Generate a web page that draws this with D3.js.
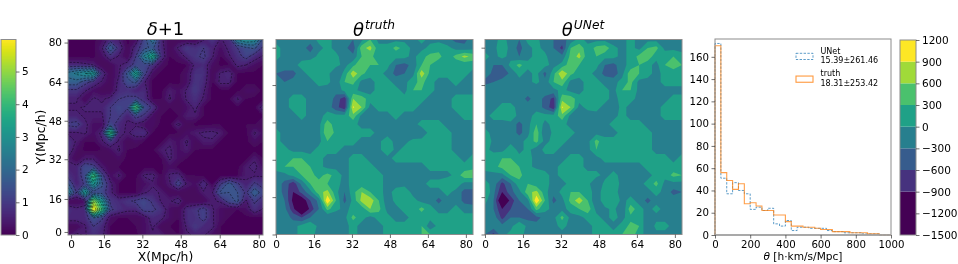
<!DOCTYPE html>
<html>
<head>
<meta charset="utf-8">
<script src="https://cdn.jsdelivr.net/npm/d3@7"></script>
<style>
  html, body { margin: 0; padding: 0; background: #fff; }
  svg { display: block; filter: blur(0.35px); }
  text { font-family: "DejaVu Sans", sans-serif; fill: #000; }
  .math { font-style: italic; }
</style>
</head>
<body>
<svg width="958" height="264"></svg>
<script>
// all three fields on a 24x24 lattice, top row first
var deltaField = [
  [.05,.05,.05,.05,.25,.7,.5,.05,.25,1.2,2.4,.6,.1,.1,.1,.1,.45,.9,.45,.7,2.6,3,2.8,1.4],
  [.05,.05,.05,.05,.45,1.9,.8,.1,.7,1.4,1.6,.7,.1,.55,1,.8,1,.6,.25,.6,1,1.4,1.6,.9],
  [.05,.05,.05,.05,.25,.8,.45,.1,1,2.6,3.8,.8,.1,.25,.6,.9,1.1,.55,.1,.45,.8,1.2,.7,.45],
  [.7,.7,.6,.5,.1,.1,.45,.7,1.2,1.3,.8,.25,.05,.05,.1,.6,.7,.25,.05,.1,.6,.5,.25,.1],
  [2.2,2.6,3,3.2,.8,.1,.45,1.6,3.6,1.2,.25,.05,.05,.05,.25,.8,.8,.1,.55,.7,.1,.05,.05,.05],
  [1.8,1.8,1.2,.8,.45,.1,.6,1.4,1.6,.55,.05,.05,.05,.05,.25,.9,.7,.1,.6,.6,.05,.05,.05,.05],
  [.9,.9,.55,.25,.1,.1,.7,.8,.55,.7,.05,.05,.45,.25,.55,1,.55,.05,.05,.05,.05,.25,.25,.05],
  [.55,.55,.1,.55,.45,.6,1,1.1,1.2,.8,.1,.1,.55,.1,.55,.8,.45,.05,.05,.1,.55,.1,.05,.05],
  [.45,.45,.55,.55,.55,1,1.3,1.1,4.6,1.4,.9,.1,.1,.1,.25,.6,.1,.05,.05,.05,.1,.05,.1,.7],
  [.6,.6,.45,.45,.45,1,1.1,.55,1.2,.9,.25,.1,.05,.1,.45,.45,.1,.05,.05,.05,.05,.05,.05,.1],
  [1.1,1.2,.6,.25,.25,1.3,.7,.45,.45,.25,.25,.05,.05,.6,.1,.05,.05,.1,.1,.05,.05,.1,.1,.1],
  [.45,.45,.55,.25,.6,4.4,.6,.45,.7,.8,.1,.05,.05,.1,.25,.45,.55,.6,.45,.05,.05,.05,.55,.25],
  [.8,.45,.1,.1,.45,.9,.45,.1,.25,.1,.05,.05,.45,.25,.55,.1,.45,.45,.1,.05,.05,.05,.25,.1],
  [.8,.25,.05,.05,.1,.25,.55,.1,.05,.05,.05,.45,.55,.25,.45,.1,.05,.05,.05,.05,.05,.05,.05,.05],
  [.45,.1,.45,.45,.1,.1,.25,.05,.05,.05,.05,.1,.55,.25,.1,.05,.05,.05,.05,.05,.05,.05,.45,.1],
  [.6,.6,1.4,1.2,.45,.1,.1,.05,.05,.05,.05,.05,.25,.05,.05,.05,.05,.05,.05,.05,.05,.45,.6,.25],
  [.8,.55,1.4,4.4,1.2,.25,.55,.05,.05,.55,.6,.1,.55,.7,.1,.1,.05,.05,.05,.05,.1,.45,.45,.45],
  [1.6,.55,1.1,3.2,1.6,.6,.1,.05,.1,.25,.45,.1,.45,1.3,.45,.25,.8,.1,1,1.7,1.1,.55,1.1,.8],
  [2.6,1,3.4,1.2,1.3,.6,.1,.05,.1,.45,.6,.45,.1,.1,.1,.1,.45,.45,1.6,1.5,1.5,.9,1.9,1.2],
  [.1,.1,.25,5,3,.9,.7,.9,1.1,1.3,.9,.45,.45,.7,.1,.1,.1,.45,.55,1.3,1.6,.45,1.1,.7],
  [.8,.6,.7,6.2,4,1.1,.8,.6,.6,1.2,1.1,.8,.25,.1,.7,.9,1.2,.55,.25,.1,.1,.25,.8,.45],
  [.7,.7,.7,1.5,1.1,.25,.1,.1,.1,.25,.7,.6,.25,.1,.7,.8,1.2,.55,.25,.1,.05,.05,.05,.05],
  [.1,.1,.45,1,.7,.1,.05,.05,.1,.25,.55,.1,.1,.05,.55,1,.7,.6,.1,.05,.05,.05,.05,.05],
  [.25,.6,.45,.8,.6,.1,.05,.05,.05,.25,.45,.45,.1,.1,.45,.55,.55,.25,.1,.05,.05,.05,.05,.05]
];

// theta fields in units of 100 h km/s/Mpc
var thetaTruth = [
  [-1,-1,-1,-1,-2,1,1,-1,-1,-3,-1,3,-1,-1,-1,-1,-1,1,-1,-1,-2,-4,-4,-1],
  [1,-1,-1,-2,-4,-1,1,-1,-2,-5,5,7,1,1,4,2,-1,-1,1,2,1,-1,-2,-1],
  [1,-1,-1,-1,-2,1,2,1,-2,-2,3,4,1,1,1,1,-1,2,4,4,1,4,7,5],
  [-1,-1,-1,1,3,1,1,1,-1,2,6,3,3,1,-3,-4,-2,3,3,1,1,1,1,1],
  [-3,-4,-4,-1,1,1,1,-3,1,8,4,1,1,-1,-4,-3,-1,8,2,1,1,1,1,-1],
  [-3,-3,-2,-1,-1,1,1,-2,3,4,-1,-1,1,1,-1,-1,2,4,1,-1,-1,1,-1,-1],
  [-1,-1,-1,-1,-1,-1,-2,-2,1,1,-1,-1,1,2,1,-1,3,3,1,-1,-1,-1,-1,-1],
  [-2,-1,1,1,-1,-3,-1,-4,-8,6,5,1,1,1,1,1,2,1,-1,-1,-1,1,1,1],
  [-2,-1,1,1,-1,-1,-1,-5,-8,9.5,6,-1,1,1,1,1,1,-1,-1,-1,-1,1,1,1],
  [-1,-1,-1,1,-1,-1,1,1,1,5,-1,-2,-1,-1,1,-1,-1,-1,-1,-1,-1,-1,1,1],
  [-1,-1,-1,-1,-1,-1,5,1,1,1,-1,-1,-1,-1,-1,-1,-1,1,1,1,-1,-1,-1,-1],
  [1,-1,-1,-1,-3,-1,6,2,1,3,1,1,-1,-2,-2,-1,-3,-2,1,1,1,-1,-1,-1],
  [1,-1,-1,-1,-1,-1,3,1,1,1,-1,-1,-1,3,-2,-1,1,1,1,1,1,-1,-1,-1],
  [1,1,-1,-1,-1,1,1,1,-1,-1,-1,-1,-1,3,-1,1,1,1,1,1,1,-1,-1,-1],
  [1,2,3,3,1,1,-1,-1,-1,1,1,-1,-1,-1,1,1,1,1,1,1,1,1,-1,1],
  [1,3,3,4,3,1,-1,-1,-1,1,1,1,-1,-1,-1,-1,-1,-1,1,1,1,1,1,2],
  [-1,-1,1,3,4,2,4,2,-1,1,3,1,1,-1,-1,-1,-1,-1,-1,-1,-1,1,5,5],
  [-1,-4,-8,-2,3,4,3,1,-1,1,1,1,1,-1,-1,-1,-1,-1,1,1,3,2,-1,-1],
  [-1,-4,-9,-5,-1,5,7,1,-3,2,6,3,1,-1,1,2,-1,-1,-1,-1,1,-1,-4,-4],
  [-1,-3,-10,-12,-6,-2,12,3,-4,1,7,8,3,-2,1,3,1,-1,-1,-4,-1,-1,-4,-5],
  [-1,-2,-8,-15,-8,-3,4,1,-1,1,1,6,4,-1,-1,1,1,4,1,-1,-1,1,-1,-1],
  [-1,-1,-4,-6,-3,-3,-3,-3,-1,4,1,-1,1,1,-1,-1,1,1,1,1,1,1,1,1],
  [-1,-1,-1,1,3,-1,-2,-3,-1,1,-1,-1,-1,1,1,1,1,3,-2,1,1,1,1,1],
  [-1,-3,-1,1,1,-1,-1,-1,-1,1,-1,-1,-1,1,1,1,1,3,3,1,1,1,1,1]
];

var thetaUNet = [
  [-1,-1,1,-1,-3,1,1,-2,-3,-4,-2,1,-1,-1,-1,-2,-1,1,-1,-1,-1,-3,-1,-1],
  [-1,-1,2,-1,-4,-1,1,-1,-3,-7,3,5,1,4,5,1,-1,1,-1,3,4,-1,-1,-1],
  [1,-1,1,-1,-3,-1,1,1,-3,-2,4,7,1,3,1,1,-1,1,4,5,1,2,3,1],
  [-1,-3,-3,1,4,1,1,1,-1,1,5,3,1,1,-3,-4,-1,1,3,1,-1,3,5,3],
  [-1,-4,-6,-2,1,-1,1,-4,2,9,4,1,1,-1,-4,-5,-1,5,3,1,-1,1,1,2],
  [-4,-3,-1,-1,-1,-1,1,-2,3,5,-1,-1,1,1,-1,-1,1,4,-1,-1,-1,1,1,1],
  [-1,-1,-1,-1,-1,-1,-3,-1,-1,1,-1,-1,1,2,1,-1,3,3,-1,-1,-1,-1,-1,-1],
  [-1,-1,-1,-1,-1,-4,-1,-4,-7,5,5,1,1,1,1,-1,1,1,-1,-1,-1,-1,1,1],
  [-1,-1,1,1,-1,-1,-1,-4,-8,9.5,6,-1,1,1,-1,-2,1,-1,-1,-1,-1,1,1,1],
  [-1,1,1,2,-1,-1,1,1,1,5,-1,-3,-2,-1,-2,-1,1,-1,-1,-1,-1,1,1,1],
  [-1,-1,-1,-1,-4,-1,3,-1,1,1,-1,-1,-1,-1,-1,1,1,1,1,-1,-1,-1,-1,-1],
  [1,-1,-1,-1,-4,-1,5,-3,1,1,1,-1,-1,-1,-1,-1,1,1,1,1,-1,-1,-1,-1],
  [3,-1,-1,-1,-1,1,4,-1,1,1,-1,-1,-1,4,1,1,1,1,1,1,-1,-1,-1,-1],
  [1,-1,-1,2,-1,1,-2,1,1,-1,-1,-1,-1,3,1,1,1,1,1,1,-1,-1,-1,-1],
  [1,2,3,3,1,1,-1,-1,-1,-1,1,1,-1,-1,1,1,1,1,1,1,1,1,-1,1],
  [1,2,4,4,3,1,-1,-1,-1,1,1,1,-1,-1,-1,-1,-1,-1,-1,1,1,1,1,1],
  [-1,-1,-1,3,4,1,3,1,-1,1,1,1,1,1,-1,1,-1,-1,-1,-1,1,1,4,3],
  [1,-1,-7,-3,2,3,1,1,-1,-1,1,1,1,-3,1,2,-1,-1,-1,1,4,-1,-1,-1],
  [3,-2,-9,-4,-1,5,7,1,-2,1,3,3,1,-1,1,1,-1,-1,-1,-1,1,-1,-4,-3],
  [1,-3,-14,-8,-3,-1,12,3,-4,-1,4,8,3,-3,3,3,-1,1,-1,-4,-1,-1,-1,-1],
  [-1,-3,-9,-6,-4,-3,4,1,-1,-1,1,3,5,-1,-1,1,-3,5,1,-1,1,-1,-1,-1],
  [-1,-1,-7,-3,-3,-4,-4,-2,-1,4,-1,-1,1,1,-1,1,-1,2,1,-1,-1,-1,-1,-1],
  [-1,-1,-2,-1,3,-1,-2,-1,-1,1,-1,-1,-1,1,1,-1,1,4,3,-3,1,1,-1,-1],
  [-3,-7,-1,1,1,-1,-1,-1,-1,-1,-1,-1,-1,1,1,1,3,5,1,-1,-1,-1,-1,-1]
];

var gridTicks = [0, 16, 32, 48, 64, 80];
var deltaTickX = [0, 5.4, 11.7, 18, 24.4, 30.8];   // image pixel index of each label
var deltaTickY = [0, 5.4, 11.9, 18.2, 24.6, 31];
var deltaBarTicks = [0, 1, 2, 3, 4, 5];
var deltaLevels = [0.5, 1, 1.5, 2, 2.5, 3, 3.5, 4, 4.5, 5, 5.5];
var thetaLevels = [-1500, -900, -600, -300, 0, 300, 600, 900];
var thetaBarTicks = [-1500, -1200, -900, -600, -300, 0, 300, 600, 900, 1200];

var binWidth = 1000 / 30;
var histTruth = [170,56,49,41,46,28,29,26,22,22,18,18,12,8,8,7,7,6,5,5,3,3,3,2,2,2,1,1,0,0];
var histUNet = [172,51,37,47,40,37,23,25,22,24,10,8,13,4,7,7,6,6,6,4,3,3,2,2,2,1,1,1,0,0];
var histXTicks = [0, 200, 400, 600, 800, 1000];
var histYTicks = [0, 20, 40, 60, 80, 100, 120, 140, 160];

var frameColor = "#8c8c8c";
var svg = d3.select("svg");

// flat helper for d3.contours
function flat(rows, k) {
  var out = [];
  rows.forEach(function(r) { r.forEach(function(v) { out.push(v * k); }); });
  return out;
}

var contours = d3.contours().size([24, 24]).smooth(true);

function gridPath(x0, x1, y0, y1) {
  var sx = d3.scaleLinear().domain([0.5, 23.5]).range([x0, x1]);
  var sy = d3.scaleLinear().domain([0.5, 23.5]).range([y0, y1]);
  return d3.geoPath(d3.geoTransform({
    point: function(x, y) { this.stream.point(sx(x), sy(y)); }
  }));
}

function clip(id, x0, x1, y0, y1) {
  svg.append("clipPath").attr("id", id).append("rect")
    .attr("x", x0).attr("y", y0).attr("width", x1 - x0).attr("height", y1 - y0);
}

function frame(x0, x1, y0, y1) {
  svg.append("rect")
    .attr("x", x0).attr("y", y0).attr("width", x1 - x0).attr("height", y1 - y0)
    .attr("fill", "none").attr("stroke", frameColor).attr("stroke-width", 1);
}

function styleAxis(g, size) {
  g.select(".domain").remove();
  g.selectAll("line").attr("stroke", "#333").attr("stroke-width", 0.7);
  g.selectAll("text").style("font-size", (size || 10.5) + "px").attr("fill", "#000");
}

// ---- density panel
var p1 = { x0: 68, x1: 263, y0: 39.5, y1: 235 };
clip("clip1", p1.x0, p1.x1, p1.y0, p1.y1);

var deltaColor = d3.scaleSequential(d3.interpolateViridis).domain([0, 5.98]);
var deltaValues = flat(deltaField, 1);
var deltaPath = gridPath(p1.x0, p1.x1, p1.y0, p1.y1);

var defs = svg.append("defs");
defs.append("filter").attr("id", "soft").append("feGaussianBlur").attr("stdDeviation", 1.2);

svg.append("rect")
  .attr("x", p1.x0).attr("y", p1.y0).attr("width", p1.x1 - p1.x0).attr("height", p1.y1 - p1.y0)
  .attr("fill", deltaColor(0.02));

svg.append("g").attr("clip-path", "url(#clip1)")
  .append("g").attr("filter", "url(#soft)")
  .selectAll("path")
  .data(contours.thresholds(d3.range(0, 6, 0.1))(deltaValues))
  .enter().append("path")
  .attr("d", deltaPath)
  .attr("fill", function(d) { return deltaColor(d.value + 0.05); });

svg.append("g").attr("clip-path", "url(#clip1)")
  .selectAll("path")
  .data(contours.thresholds(deltaLevels)(deltaValues))
  .enter().append("path")
  .attr("d", deltaPath)
  .attr("fill", "none")
  .attr("stroke", "#000")
  .attr("stroke-opacity", 0.6)
  .attr("stroke-width", 0.7)
  .attr("stroke-dasharray", "2.2,1.4");

frame(p1.x0, p1.x1, p1.y0, p1.y1);

var x1Scale = d3.scaleLinear().domain([-0.5, 31.5]).range([p1.x0, p1.x1]);
var y1Scale = d3.scaleLinear().domain([-0.5, 31.5]).range([p1.y1, p1.y0]);

svg.append("g").attr("transform", "translate(0," + p1.y1 + ")")
  .call(d3.axisBottom(x1Scale).tickValues(deltaTickX).tickSize(3.5).tickPadding(2.5)
    .tickFormat(function(d, i) { return gridTicks[i]; }))
  .call(styleAxis);
svg.append("g").attr("transform", "translate(" + p1.x0 + ",0)")
  .call(d3.axisLeft(y1Scale).tickValues(deltaTickY).tickSize(3.5).tickPadding(2.5)
    .tickFormat(function(d, i) { return gridTicks[i]; }))
  .call(styleAxis);

svg.append("text").attr("x", 165.5).attr("y", 35).attr("text-anchor", "middle")
  .style("font-size", "18px").attr("class", "math").text("δ")
  .append("tspan").style("font-style", "normal").text("+1");
svg.append("text").attr("x", 165.5).attr("y", 261).attr("text-anchor", "middle")
  .style("font-size", "12.4px").text("X(Mpc/h)");
svg.append("text").attr("transform", "translate(45,137) rotate(-90)").attr("text-anchor", "middle")
  .style("font-size", "12.4px").text("Y(Mpc/h)");

// density colorbar, one row per pixel
var barD = { x0: 1, x1: 16, y0: 39.5, y1: 235 };
var barDY = d3.scaleLinear().domain([0, 5.98]).range([barD.y1, barD.y0]);
svg.append("g").attr("shape-rendering", "crispEdges").selectAll("rect")
  .data(d3.range(Math.ceil(barD.y0), Math.ceil(barD.y1)))
  .enter().append("rect")
  .attr("x", barD.x0).attr("width", barD.x1 - barD.x0)
  .attr("y", function(d) { return d; })
  .attr("height", 1)
  .attr("fill", function(d) { return deltaColor(barDY.invert(d + 0.5)); });
frame(barD.x0, barD.x1, barD.y0, barD.y1);
svg.append("g").attr("transform", "translate(" + barD.x1 + ",0)")
  .call(d3.axisRight(barDY).tickValues(deltaBarTicks).tickSize(3.5).tickPadding(2.5).tickFormat(d3.format("d")))
  .call(styleAxis);

// ---- theta panels, same filled levels and same colours
var bandColor = d3.scaleOrdinal().domain(thetaLevels)
  .range(thetaLevels.map(function(d, i) { return d3.interpolateViridis(i / (thetaLevels.length - 1)); }));

function thetaPanel(rows, id, x0, x1, sup, titleX) {
  var y0 = 39.5, y1 = 234.5;
  clip(id, x0, x1, y0, y1);
  svg.append("g").attr("clip-path", "url(#" + id + ")")
    .selectAll("path")
    .data(contours.thresholds(thetaLevels)(flat(rows, 100)))
    .enter().append("path")
    .attr("d", gridPath(x0, x1, y0, y1))
    .attr("fill", function(d) { return bandColor(d.value); });
  frame(x0, x1, y0, y1);

  var sx = d3.scaleLinear().domain([0, 83]).range([x0, x1]);
  var sy = d3.scaleLinear().domain([0, 83.5]).range([y1, y0]);
  svg.append("g").attr("transform", "translate(0," + y1 + ")")
    .call(d3.axisBottom(sx).tickValues(gridTicks).tickSize(3.5).tickPadding(2.5))
    .call(styleAxis);
  svg.append("g").attr("transform", "translate(" + x0 + ",0)")
    .call(d3.axisLeft(sy).tickValues(gridTicks).tickSize(3.5).tickFormat(""))
    .call(styleAxis);

  var t = svg.append("text").attr("x", titleX).attr("y", 35.5).attr("text-anchor", "middle")
    .attr("class", "math").style("font-size", "18px").text("θ");
  t.append("tspan").attr("dy", -6.5).attr("dx", 1).style("font-size", "12.2px").text(sup);
}
thetaPanel(thetaTruth, "clip2", 276, 473, "truth", 374);
thetaPanel(thetaUNet, "clip3", 485, 682, "UNet", 583);

// ---- histogram
var h = { x0: 715, x1: 891, y0: 39, y1: 235 };
var hx = d3.scaleLinear().domain([0, 1000]).range([h.x0, h.x1]);
var hy = d3.scaleLinear().domain([0, 176]).range([h.y1, h.y0]);

var stepLine = d3.line()
  .x(function(d) { return hx(d[0]); })
  .y(function(d) { return hy(d[1]); })
  .curve(d3.curveStepAfter);

function stepPoints(counts) {
  var pts = [[0, 0]];
  counts.forEach(function(c, i) { pts.push([i * binWidth, c]); });
  pts.push([counts.length * binWidth, 0]);
  return pts;
}

svg.append("path").datum(stepPoints(histUNet))
  .attr("d", stepLine).attr("fill", "none")
  .attr("stroke", "#1f77b4").attr("stroke-opacity", 0.8).attr("stroke-width", 0.9)
  .attr("stroke-dasharray", "2.4,1.4");
svg.append("path").datum(stepPoints(histTruth))
  .attr("d", stepLine).attr("fill", "none")
  .attr("stroke", "#ff7f0e").attr("stroke-opacity", 0.75).attr("stroke-width", 1.1);

frame(h.x0, h.x1, h.y0, h.y1);
svg.append("line").attr("x1", h.x0).attr("x2", h.x1).attr("y1", h.y1).attr("y2", h.y1)
  .attr("stroke", "#a0a0a0").attr("stroke-width", 1.6);

svg.append("g").attr("transform", "translate(0," + h.y1 + ")")
  .call(d3.axisBottom(hx).tickValues(histXTicks).tickSize(3.5).tickPadding(2.5).tickFormat(d3.format("d")))
  .call(styleAxis, 10.2);
svg.append("g").attr("transform", "translate(" + h.x0 + ",0)")
  .call(d3.axisLeft(hy).tickValues(histYTicks).tickSize(3.5).tickPadding(2.5))
  .call(styleAxis, 10.2);

var xl = svg.append("text").attr("x", 803).attr("y", 259.5).attr("text-anchor", "middle").style("font-size", "10.6px");
xl.append("tspan").attr("class", "math").text("θ");
xl.append("tspan").text(" [h·km/s/Mpc]");

// legend
var legendNames = ["UNet", "truth"];
var legendStats = ["15.39±261.46", "18.31±253.42"];
var legendColors = ["#1f77b4", "#ff7f0e"];
var legendRow = d3.scaleBand().domain(legendNames).range([52.5, 98]);

legendNames.forEach(function(name, i) {
  var top = legendRow(name);
  svg.append("rect").attr("x", 796).attr("y", top + 0.8).attr("width", 17).attr("height", 6.2)
    .attr("fill", "none").attr("stroke", legendColors[i]).attr("stroke-opacity", 0.8)
    .attr("stroke-width", i ? 1.1 : 0.9).attr("stroke-dasharray", i ? null : "2.4,1.4");
  svg.append("text").attr("x", 820.5).attr("y", top + 1).style("font-size", "8px").text(name);
  svg.append("text").attr("x", 820.5).attr("y", top + 10.7).style("font-size", "8px").text(legendStats[i]);
});

// theta colorbar, one block per contour level
var barT = { x0: 900, x1: 916, y0: 40, y1: 235 };
var barTY = d3.scaleLinear().domain([-1500, 1200]).range([barT.y1, barT.y0]);
var bandTops = thetaLevels.slice(1).concat([1200]);
svg.append("g").selectAll("rect")
  .data(thetaLevels)
  .enter().append("rect")
  .attr("x", barT.x0).attr("width", barT.x1 - barT.x0)
  .attr("y", function(d, i) { return barTY(bandTops[i]); })
  .attr("height", function(d, i) { return barTY(d) - barTY(bandTops[i]); })
  .attr("fill", function(d) { return bandColor(d); });
frame(barT.x0, barT.x1, barT.y0, barT.y1);
svg.append("g").attr("transform", "translate(" + barT.x1 + ",0)")
  .call(d3.axisRight(barTY).tickValues(thetaBarTicks).tickSize(3.5).tickPadding(2.5)
    .tickFormat(function(d) { return String(d).replace("-", "\u2212"); }))
  .call(styleAxis);
</script>
</body>
</html>
